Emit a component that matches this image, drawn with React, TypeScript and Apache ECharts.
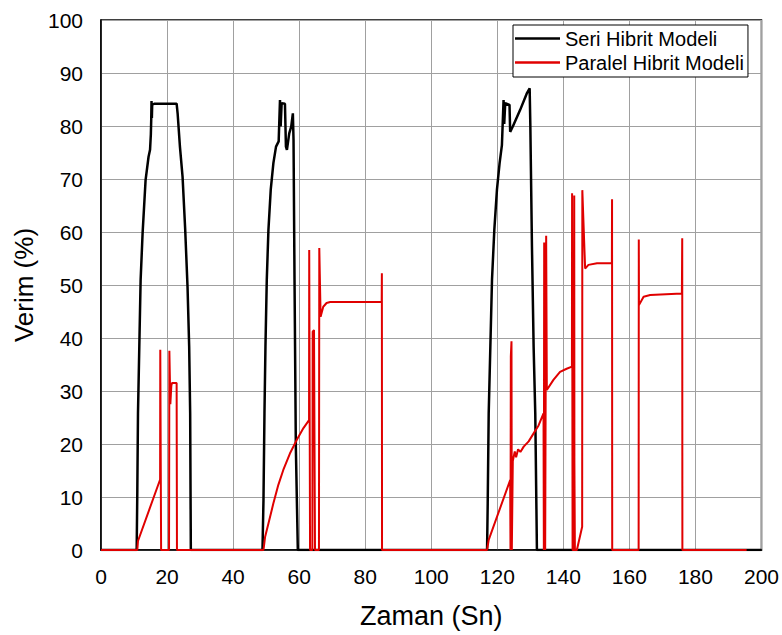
import React, { useEffect, useRef } from "react";
import * as echarts from "echarts";

// Seri Hibrit Modeli (black)
const seriTime = [
  0, 10.8, 11.0, 11.2, 11.6, 12.0, 12.6, 13.5, 14.4, 14.85, 15.1, 15.2, 15.3, 15.4, 15.5, 16.1, 22.9, 23.2, 23.9, 24.7, 25.5, 26.2, 26.7, 27.0, 27.2,
  48.9, 49.2, 49.5, 49.8, 50.2, 50.7, 51.4, 52.2, 53.0, 53.8, 54.2, 54.4, 54.7, 55.7, 56.0, 56.3, 57.0, 57.6, 58.1, 58.3, 58.6, 59.0, 59.6,
  116.9, 117.1, 117.4, 117.9, 118.4, 119.1, 119.9, 120.7, 121.4, 121.9, 122.1, 122.4, 123.7, 123.9, 124.7, 126.9, 128.9, 129.8, 130.0, 130.5, 131.0, 131.5, 132.0,
  200,
];
const seriValue = [
  0, 0, 11.3, 25.8, 38.4, 51.0, 59.8, 69.8, 74.2, 75.5, 78.5, 81, 84.7, 81.5, 84, 84.2, 84.2, 82.4, 76.1, 70.4, 60.4, 49.7, 38.4, 25.8, 0,
  0, 9.4, 25.8, 38.4, 51.0, 60.4, 68.0, 73.0, 76.1, 77.1, 84.9, 79.9, 84.3, 84.2, 76.1, 75.5, 78.6, 79.9, 82.4, 77.4, 51.0, 19.5, 0,
  0, 8.8, 25.8, 38.4, 51.0, 60.4, 68.0, 73.0, 76.4, 84.9, 80.4, 84.3, 84.0, 78.9, 79.9, 83.0, 86.1, 87.1, 80.4, 57.2, 38.4, 25.8, 0,
  0,
];

// Paralel Hibrit Modeli (red)
const paralelTime = [
  0, 11.0, 11.2, 17.9, 17.95, 18.1, 18.2, 20.6, 20.7, 21.0, 21.3, 21.5, 22.9, 23.0,
  49.2, 49.7, 50.7, 52.2, 53.7, 55.2, 57.2, 59.3, 61.3, 63.0, 63.05, 63.2, 63.3, 64.0, 64.1, 64.5, 64.8, 66.0, 66.1, 66.5, 67.3, 68.3, 69.4, 85.0, 85.05, 85.1,
  116.9, 117.4, 123.9, 124.0, 124.1, 124.3, 124.4, 124.6, 124.7, 125.3, 125.7, 126.3, 127.0, 128.0, 129.5, 131.0, 132.5, 134.0,
  134.1, 134.2, 134.5, 134.7, 134.8, 135.0, 137.0, 139.0, 141.0, 142.6, 142.65, 142.8, 143.2, 143.3, 143.35, 143.5, 144.1,
  145.7, 145.75, 146.6, 147.6, 150.2, 154.7, 154.75, 154.8, 162.8, 162.85, 162.9, 164.3, 166.3, 175.9, 176.0, 176.05, 195.5,
];
const paralelValue = [
  0, 0, 1.7, 13.3, 37.8, 37.8, 0, 0, 37.6, 27.5, 31, 31.5, 31.5, 0,
  0, 2.5, 5.0, 8.8, 12.3, 15.1, 18.2, 20.8, 23.0, 24.5, 56.6, 56.6, 0, 0, 41.2, 41.5, 0, 0, 57, 44.0, 45.9, 46.6, 46.8, 46.8, 52.2, 0,
  0, 1.9, 13.2, 0, 36.5, 39.4, 0, 0, 16.8, 18.6, 17.5, 19, 18.5, 19.5, 20.5, 22, 23.5, 25.8,
  0, 58, 0, 0, 59.3, 30.2, 32.1, 33.6, 34.2, 34.6, 67.3, 0, 0, 66.9, 16.4, 0, 0,
  4.4, 67.9, 53.1, 53.8, 54.1, 54.1, 66.2, 0, 0, 58.6, 46.2, 47.8, 48.1, 48.4, 58.8, 0, 0,
];

const xTicks = { min: 0, max: 200, interval: 20 };
const yTicks = { min: 0, max: 100, interval: 10 };

const FONT = "'Liberation Sans', Arial, sans-serif";

export default function App() {
  const ref = useRef<HTMLDivElement>(null);
  useEffect(() => {
    if (!ref.current) return;
    const chart = echarts.init(ref.current, undefined, { renderer: "svg" });
    const seriData = seriTime.map((t, i) => [t, seriValue[i]]);
    const paralelData = paralelTime.map((t, i) => [t, paralelValue[i]]);
    chart.setOption({
      animation: false,
      backgroundColor: "#ffffff",
      textStyle: { fontFamily: FONT },
      grid: {
        left: 101,
        right: 20,
        top: 20,
        bottom: 85,
        containLabel: false,
        show: true,
        borderColor: "#000",
        borderWidth: 1.5,
      },
      legend: {
        orient: "vertical",
        left: 513,
        top: 25,
        padding: [3, 4, 4, 2],
        icon: "rect",
        itemWidth: 45,
        itemHeight: 2.5,
        itemGap: 3,
        borderColor: "#000",
        borderWidth: 1,
        borderRadius: 0,
        backgroundColor: "#fff",
        textStyle: { fontSize: 20, lineHeight: 21, fontFamily: FONT, color: "#000" },
        data: ["Seri Hibrit Modeli", "Paralel Hibrit Modeli"],
      },
      xAxis: {
        type: "value",
        min: xTicks.min,
        max: xTicks.max,
        interval: xTicks.interval,
        name: "Zaman (Sn)",
        nameLocation: "middle",
        nameGap: 52,
        nameTextStyle: { fontSize: 27, fontFamily: FONT, color: "#000" },
        axisLine: { show: true, onZero: false, lineStyle: { color: "#000", width: 1.5 } },
        axisTick: { show: false },
        axisLabel: { fontSize: 21, fontFamily: FONT, color: "#000", margin: 16 },
        splitLine: { show: true, lineStyle: { color: "#a0a0a0", width: 1 } },
      },
      yAxis: {
        type: "value",
        min: yTicks.min,
        max: yTicks.max,
        interval: yTicks.interval,
        name: "Verim (%)",
        nameLocation: "middle",
        nameGap: 58,
        nameTextStyle: { fontSize: 26, fontFamily: FONT, color: "#000" },
        axisLine: { show: true, lineStyle: { color: "#000", width: 1.5 } },
        axisTick: { show: false },
        axisLabel: { fontSize: 21, fontFamily: FONT, color: "#000", margin: 18 },
        splitLine: { show: true, lineStyle: { color: "#a0a0a0", width: 1 } },
      },
      series: [
        {
          name: "Seri Hibrit Modeli",
          type: "line",
          data: seriData,
          symbol: "none",
          color: "#000000",
          lineStyle: { color: "#000000", width: 2.5 },
          z: 2,
        },
        {
          name: "Paralel Hibrit Modeli",
          type: "line",
          data: paralelData,
          symbol: "none",
          color: "#e00000",
          lineStyle: { color: "#e00000", width: 2 },
          z: 3,
        },
      ],
    });
    return () => chart.dispose();
  }, []);
  return (
    <div
      ref={ref}
      style={{ position: "fixed", left: 0, top: 0, width: 782, height: 635 }}
    />
  );
}
